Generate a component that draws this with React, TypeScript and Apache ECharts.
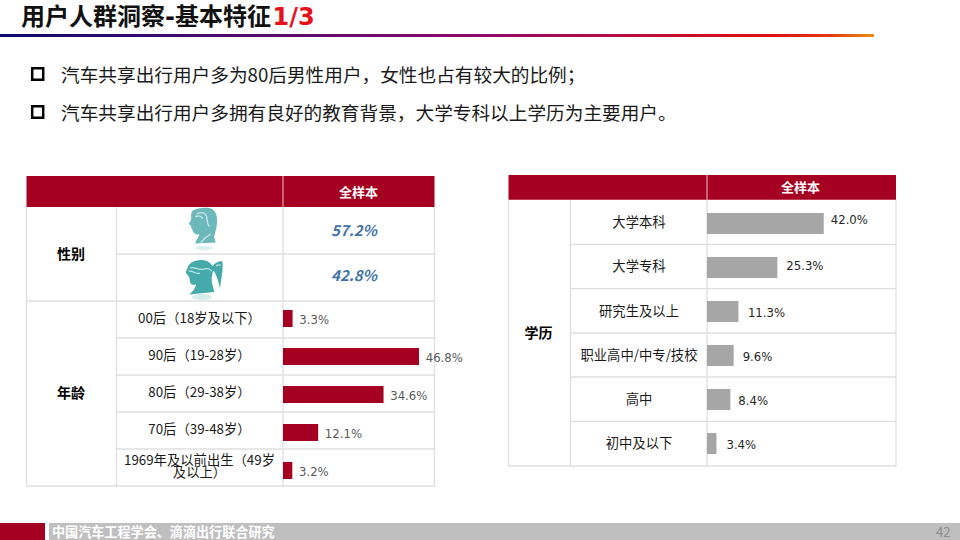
import React, { useEffect, useRef } from "react";
import * as echarts from "echarts";

const titleMain = "用户人群洞察-基本特征";
const titlePage = "1/3";
const bullets = [
  "汽车共享出行用户多为80后男性用户，女性也占有较大的比例；",
  "汽车共享出行用户多拥有良好的教育背景，大学专科以上学历为主要用户。",
];
const headerLabel = "全样本";
const genderGroup = "性别";
const genderValues = ["57.2%", "42.8%"];
const ageGroup = "年龄";
const ageCategories = [
  "00后（18岁及以下）",
  "90后（19-28岁）",
  "80后（29-38岁）",
  "70后（39-48岁）",
  "1969年及以前出生（49岁\n及以上）",
];
const ageValues = [3.3, 46.8, 34.6, 12.1, 3.2];
const eduGroup = "学历";
const eduCategories = ["大学本科", "大学专科", "研究生及以上", "职业高中/中专/技校", "高中", "初中及以下"];
const eduValues = [42.0, 25.3, 11.3, 9.6, 8.4, 3.4];
const footerText = "中国汽车工程学会、滴滴出行联合研究";
const pageNumber = "42";

// label placement of the right-hand table, which is uneven in the source
const eduLabelGap = [7, 9, 9.5, 9, 8, 10];
const eduLabelShift = [-4, -1.5, 1, 1, 1, 1];

const CJK = '"Noto Sans CJK SC","Noto Sans",sans-serif';
const LATIN = '"DejaVu Sans","Noto Sans CJK SC",sans-serif';
const RED = "#a50021";
const GRID = "#dfdfdf";
const CJK_SHIFT = -1.3;

echarts.graphic.registerShape(
  "maleHead",
  echarts.graphic.extendPath(
    "M68 32 C80 24 110 20 125 26 C138 32 143 50 141 70 C140 88 134 100 133 112 L137 128 L75 131 C78 122 86 112 88 103 C80 104 72 102 70 96 C69 92 67 88 65 86 L62 76 L56 72 C60 66 64 60 64 54 C62 44 64 36 68 32 Z",
    {}
  )
);
echarts.graphic.registerShape(
  "femaleHead",
  echarts.graphic.extendPath(
    "M54 200 C60 184 90 174 112 184 C120 188 124 194 128 198 C134 190 146 182 157 184 C161 204 154 236 150 266 C146 248 142 228 130 212 C124 228 124 244 128 256 L133 276 L58 284 C68 276 76 266 78 254 C70 256 62 254 60 246 C60 240 58 236 58 232 L52 224 C50 220 46 218 48 214 C52 210 51 206 54 200 Z",
    {}
  )
);
echarts.graphic.registerShape(
  "maleLines",
  echarts.graphic.extendPath(
    "M80 42 C95 34 107 38 110 50 C113 60 110 70 118 80 M76 50 C85 46 95 48 98 56 M92 128 C100 118 112 108 122 102",
    {}
  )
);
echarts.graphic.registerShape(
  "femaleLines",
  echarts.graphic.extendPath(
    "M60 204 C74 198 84 214 104 207 C114 204 120 206 126 214 M56 214 C68 210 76 224 90 220 M138 198 C144 194 148 194 152 196",
    {}
  )
);

function text(content: string, x: number, y: number, o: any = {}) {
  const style: any = {
    text: content,
    x,
    y: y + CJK_SHIFT,
    align: o.align || "center",
    verticalAlign: "middle",
    fontSize: o.size || 13.33,
    fontWeight: o.weight || "normal",
    fontStyle: o.style || "normal",
    fontFamily: o.family || CJK,
    fill: o.color || "#262626",
  };
  if (o.lineHeight) style.lineHeight = o.lineHeight;
  return { type: "text", silent: true, style };
}
function line(x1: number, y1: number, x2: number, y2: number, stroke = GRID, lineWidth = 1.3) {
  return { type: "line", silent: true, shape: { x1, y1, x2, y2 }, style: { stroke, lineWidth } };
}
function rect(x: number, y: number, width: number, height: number, fill: any) {
  return { type: "rect", silent: true, shape: { x, y, width, height }, style: { fill } };
}

function buildGraphic() {
  const g: any[] = [];
  // title
  g.push(text(titleMain, 21, 18.3, { align: "left", size: 24, weight: "bold", family: LATIN, color: "#111111" }));
  g.push(text(titlePage, 272.5, 18.3, { align: "left", size: 24, weight: "bold", family: LATIN, color: "#e6121a" }));
  g.push({
    type: "rect",
    silent: true,
    shape: { x: 0, y: 34, width: 874, height: 3 },
    style: {
      fill: new echarts.graphic.LinearGradient(0, 0, 1, 0, [
        { offset: 0, color: "#0b0b6e" },
        { offset: 0.55, color: "#900a6a" },
        { offset: 0.88, color: "#df0f12" },
        { offset: 0.95, color: "#e2380f" },
        { offset: 1, color: "#ea9112" },
      ]),
    },
  });
  // bullets
  [74, 112].forEach((cy, i) => {
    g.push({
      type: "rect",
      silent: true,
      shape: { x: 32.2, y: cy - 5.7, width: 11, height: 11.4 },
      style: { fill: "none", stroke: "#000000", lineWidth: 2.5 },
    });
    g.push(text(bullets[i], 61, cy + 0.6, { align: "left", size: 18.67, color: "#1a1a1a" }));
  });

  // left table
  const lx = [26.5, 116.5, 283, 434.5];
  const ly = [207, 254, 301, 338, 375, 412, 449, 486];
  lx.forEach((x) => g.push(line(x, 207, x, 486)));
  ly.forEach((y, i) => {
    if (i === 0) return;
    const full = y === 301 || y === 486;
    g.push(line(full ? lx[0] : lx[1], y, lx[3], y));
  });
  g.push(rect(lx[0], 176, lx[3] - lx[0], 31, RED));
  g.push(line(283, 176, 283, 207, "#f0c6cc", 1));
  g.push(text(headerLabel, 358.5, 192.3, { size: 13, weight: "bold", color: "#ffffff" }));
  g.push(text(genderGroup, 71, 254, { size: 14, weight: "bold", color: "#000000" }));
  g.push(text(ageGroup, 71, 393.7, { size: 14, weight: "bold", color: "#000000" }));
  genderValues.forEach((v, i) =>
    g.push(text(v, 354, [231, 275.5][i], { size: 15, weight: "bold", style: "italic", color: "#4273a6" }))
  );
  ageCategories.forEach((c, i) => {
    const cy = (ly[i + 2] + ly[i + 3]) / 2 - 0.8;
    g.push(text(c, 199.5, cy, { lineHeight: 12.5, color: "#1a1a1a" }));
  });

  // gender portraits
  g.push({ type: "ellipse", silent: true, shape: { cx: 204, cy: 248, rx: 9, ry: 2 }, style: { fill: "#dcefef" } });
  g.push({ type: "ellipse", silent: true, shape: { cx: 202, cy: 297, rx: 10, ry: 3 }, style: { fill: "#d6ecec" } });
  const headAt = { x: 170, y: 200, scaleX: 1 / 3, scaleY: 1 / 3, silent: true };
  g.push({ type: "maleHead", ...headAt, style: { fill: "#6db8bb" } });
  g.push({ type: "maleLines", ...headAt, style: { fill: "none", stroke: "#c6e6e6", lineWidth: 4 } });
  g.push({ type: "femaleHead", ...headAt, style: { fill: "#46a9aa" } });
  g.push({ type: "femaleLines", ...headAt, style: { fill: "none", stroke: "#c0e4e3", lineWidth: 3.5 } });

  // right table
  const rx = [508.5, 570.5, 707, 896];
  const ry = [200, 244.3, 288.6, 333, 377, 421.4, 466];
  rx.forEach((x) => g.push(line(x, 200, x, 466)));
  ry.forEach((y, i) => {
    if (i === 0) return;
    g.push(line(i === ry.length - 1 ? rx[0] : rx[1], y, rx[3], y));
  });
  g.push(rect(rx[0], 175, rx[3] - rx[0], 24.7, RED));
  g.push(line(707, 175, 707, 199.7, "#f0c6cc", 1));
  g.push(text(headerLabel, 800.5, 187.3, { size: 13, weight: "bold", color: "#ffffff" }));
  g.push(text(eduGroup, 538.5, 333, { size: 14, weight: "bold", color: "#000000" }));
  eduCategories.forEach((c, i) => {
    const cy = (ry[i] + ry[i + 1]) / 2 + 0.5;
    g.push(text(c, 639, cy, { color: "#1a1a1a" }));
  });

  // footer
  g.push(rect(0, 523, 45, 17, RED));
  g.push(rect(49, 523, 911, 17, "#bfbfbf"));
  g.push(text(footerText, 52, 532.8, { align: "left", size: 13.1, weight: "bold", color: "#ffffff" }));
  g.push(text(pageNumber, 936, 533, { align: "left", size: 13, color: "#8c8c8c" }));
  return g;
}

const labelFormat = (p: any) => `${Number(p.value).toFixed(1)}%`;

export default function App() {
  const ref = useRef<HTMLDivElement>(null);
  useEffect(() => {
    const chart = echarts.init(ref.current!, undefined, { renderer: "svg" });
    chart.setOption({
      animation: false,
      backgroundColor: "#ffffff",
      graphic: { elements: buildGraphic() },
      grid: [
        { left: 283, top: 299.5, width: 145.3, height: 190 },
        { left: 707, top: 201.5, width: 139, height: 264 },
      ],
      xAxis: [
        { gridIndex: 0, type: "value", min: 0, max: 50, show: false },
        { gridIndex: 1, type: "value", min: 0, max: 50, show: false },
      ],
      yAxis: [
        { gridIndex: 0, type: "category", inverse: true, data: ageCategories, show: false },
        { gridIndex: 1, type: "category", inverse: true, data: eduCategories, show: false },
      ],
      series: [
        {
          type: "bar",
          xAxisIndex: 0,
          yAxisIndex: 0,
          barWidth: 17,
          data: ageValues,
          itemStyle: { color: RED },
          label: {
            show: true,
            position: "right",
            distance: 6.7,
            offset: [0, 1],
            formatter: labelFormat,
            fontSize: 11.7,
            fontFamily: LATIN,
            color: "#595959",
          },
        },
        {
          type: "bar",
          xAxisIndex: 1,
          yAxisIndex: 1,
          barWidth: 21,
          data: eduValues.map((value, i) => ({
            value,
            label: { distance: eduLabelGap[i], offset: [0, eduLabelShift[i]] },
          })),
          itemStyle: { color: "#a6a6a6" },
          label: {
            show: true,
            position: "right",
            formatter: labelFormat,
            fontSize: 11.7,
            fontFamily: LATIN,
            color: "#262626",
          },
        },
      ],
    });
    return () => chart.dispose();
  }, []);
  return <div ref={ref} style={{ position: "absolute", left: 0, top: 0, width: 960, height: 540 }} />;
}
